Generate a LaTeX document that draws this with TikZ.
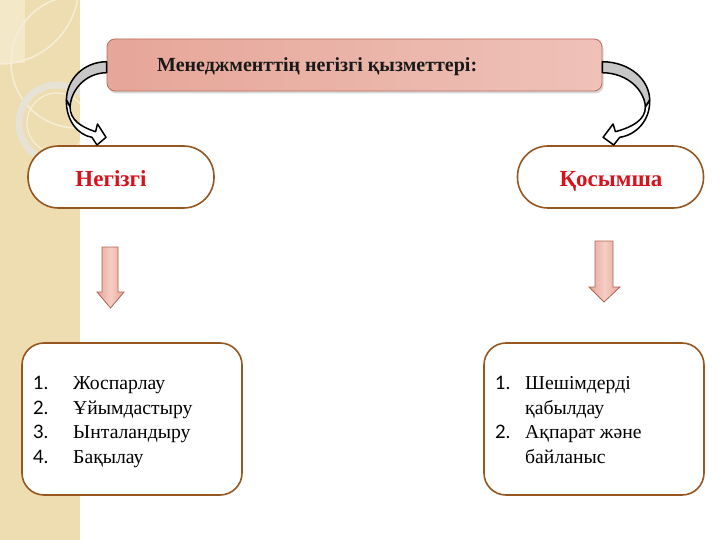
\documentclass[tikz,border=0pt]{standalone}
\usepackage{fontspec}
\setmainfont{Liberation Serif}
\newfontfamily\numfont{Lato}
\usetikzlibrary{shadows,calc}
\definecolor{strip}{RGB}{237,221,176}
\definecolor{strippatch}{RGB}{243,232,200}
\definecolor{stripline}{RGB}{246,238,216}
\definecolor{ringcol}{RGB}{230,226,214}
\definecolor{banborder}{RGB}{186,108,94}
\definecolor{banleft}{RGB}{230,166,152}
\definecolor{banright}{RGB}{239,193,184}
\definecolor{pillbrown}{RGB}{150,86,32}
\definecolor{redtext}{RGB}{214,18,28}
\definecolor{arrfill}{RGB}{231,164,150}
\definecolor{arrlight}{RGB}{245,206,197}
\definecolor{arrborder}{RGB}{176,102,84}
\tikzset{
  banner/.style={draw=banborder, line width=0.8pt, rounded corners=8pt,
    left color=banleft, right color=banright,
    drop shadow={opacity=0.3, shadow xshift=1.5pt, shadow yshift=-2.5pt}},
  pill/.style={draw=pillbrown, line width=1.6pt, rounded corners=30.5pt, fill=white,
    minimum width=186pt, minimum height=62pt},
  listbox/.style={draw=pillbrown, line width=1.6pt, rounded corners=22pt, fill=white,
    minimum width=220pt, minimum height=152pt},
  pilltext/.style={text=redtext, font=\bfseries\fontsize{23}{27}\selectfont, inner sep=0pt, anchor=base},
  bantext/.style={text=black!90, font=\bfseries\fontsize{20}{24}\selectfont, inner sep=0pt},
  numtext/.style={font=\numfont\fontsize{18.5}{22}\selectfont, inner sep=0pt, anchor=base west},
  itemtext/.style={font=\fontsize{19.7}{23}\selectfont, inner sep=0pt, anchor=base west},
  downarrow/.style={draw=arrborder, line width=0.8pt, left color=arrfill, right color=arrfill, middle color=arrlight},
  curvgray/.style={draw=black, line width=1.5pt, line join=round, fill=black!22},
  curvwhite/.style={draw=black, line width=1.5pt, line join=round, fill=white}
}
\begin{document}
\begin{tikzpicture}[x=1pt,y=-1pt]
\useasboundingbox (0,0) rectangle (720,540);
\fill[white] (0,0) rectangle (720,540);
% decorative left strip
\fill[strip] (0,0) rectangle (80,540);
\begin{scope}
  \clip (0,0) rectangle (80,540);
  \fill[strippatch] (0,0) rectangle (25,63);
  \draw[stripline, line width=1.5pt] (77,62) circle (66pt);
  \draw[stripline, line width=1.5pt] (0,-15) circle (79pt);
  \draw[ringcol, line width=7pt] (57,123) circle (38pt);
  \draw[stripline, line width=1.2pt] (57,123) circle (30pt);
\end{scope}
% banner
\node[banner, minimum width=495pt, minimum height=52pt] (banner) at (354.5,65) {};
\node[bantext, anchor=base west] (bantxt) at (157,71.5) {Менеджменттің негізгі қызметтері:};
% pills
\node[pill] (neg) at (121,177) {};
\node[pilltext] (negtxt) at (111,186.5) {Негізгі};
\node[pill] (qos) at (610.5,177) {};
\node[pilltext] (qostxt) at (611,186.5) {Қосымша};
% curved arrows
\begin{scope}[shift={(banner.east)}]
  \filldraw[curvgray] (0,-3.3) .. controls (28,-3) and (47,15) .. (47.3,35) -- (43,42) .. controls (42,25) and (25,8) .. (0,7.7) -- cycle;
  \filldraw[curvwhite] (47.3,35) .. controls (48,55) and (34,70) .. (17.3,72.3) -- (11.3,80) -- (0.7,72.3) -- (10.7,59) -- (13,66.7) .. controls (30,62) and (43,55) .. (43,42) -- cycle;
\end{scope}
\begin{scope}[shift={(banner.west)}, xscale=-0.85]
  \filldraw[curvgray] (0,-3.3) .. controls (28,-3) and (47,15) .. (47.3,35) -- (43,42) .. controls (42,25) and (25,8) .. (0,7.7) -- cycle;
  \filldraw[curvwhite] (47.3,35) .. controls (48,55) and (34,70) .. (17.3,72.3) -- (11.3,80) -- (0.7,72.3) -- (10.7,59) -- (13,66.7) .. controls (30,62) and (43,55) .. (43,42) -- cycle;
\end{scope}
% list boxes
\node[listbox] (lbox) at (132,419) {};
\node[listbox] (rbox) at (594,419) {};
% down arrows
\path[downarrow] (102,247) -- (118,247) -- (118,292) -- (124,292) -- (110.5,308) -- (97,292) -- (102,292) -- cycle;
\path[downarrow] (595,241) -- (613,241) -- (613,287) -- (620,287) -- (604,302) -- (589,287) -- (595,287) -- cycle;
% left list
\node[numtext] (ln1) at (33,389.3) {1.};
\node[numtext] (ln2) at (33,414) {2.};
\node[numtext] (ln3) at (33,438.7) {3.};
\node[numtext] (ln4) at (33,463.3) {4.};
\node[itemtext] (lt1) at (73,389.3) {Жоспарлау};
\node[itemtext] (lt2) at (73,414) {Ұйымдастыру};
\node[itemtext] (lt3) at (73,438.7) {Ынталандыру};
\node[itemtext] (lt4) at (73,463.3) {Бақылау};
% right list
\node[numtext] (rn1) at (495,389.3) {1.};
\node[numtext] (rn2) at (495,438.7) {2.};
\node[itemtext] (rt1) at (525,389.3) {Шешімдерді};
\node[itemtext] (rt2) at (525,414) {қабылдау};
\node[itemtext] (rt3) at (525,438.7) {Ақпарат және};
\node[itemtext] (rt4) at (525,463.3) {байланыс};
\end{tikzpicture}
\end{document}
